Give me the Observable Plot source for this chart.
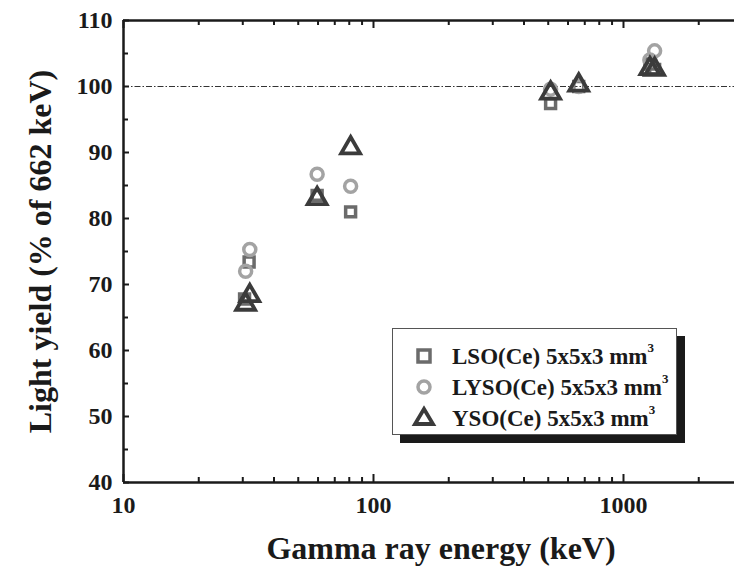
<!DOCTYPE html>
<html>
<head>
<meta charset="utf-8">
<script src="https://cdn.jsdelivr.net/npm/d3@7"></script>
<script src="https://cdn.jsdelivr.net/npm/@observablehq/plot@0.6"></script>
<style>
  html, body { margin: 0; padding: 0; background: #fff; }
  #wrap { position: relative; width: 734px; height: 566px; overflow: hidden; font-family: "Liberation Serif", "Times New Roman", serif; }
  #legend { position: absolute; left: 392px; top: 328px; width: 285px; height: 107px; background: #fff;
            border: 1px solid #555; box-shadow: 8px 8px 0 #1a1a1a; box-sizing: border-box; }
  .row { position: absolute; left: 0; height: 30px; display: flex; align-items: center; font-weight: bold; font-size: 23px; color: #1a1a1a; white-space: nowrap; }
  .row svg { width: 30px; height: 30px; margin-left: 16px; margin-right: 13px; flex: none; }
  .row sup { font-size: 13px; position: relative; top: -3px; }
</style>
</head>
<body>
<div id="wrap"></div>
<script>
// ---- data ----
const lsoEnergy  = [30.5, 31.8, 59.5, 81, 511, 662, 1275, 1332];
const lsoYield   = [67.8, 73.4, 83.5, 81.0, 97.4, 100.0, 103.4, 102.6];
const lysoEnergy = [30.8, 32, 59.5, 81, 511, 662, 1275, 1332];
const lysoYield  = [72.0, 75.3, 86.7, 84.9, 99.6, 100.0, 104.0, 105.4];
const ysoEnergy  = [30.8, 32, 59.5, 81, 511, 662, 1275, 1332];
const ysoYield   = [67.0, 68.3, 83.0, 90.7, 99.0, 100.2, 102.7, 102.6];
const seriesNames = ["LSO(Ce) 5x5x3 mm", "LYSO(Ce) 5x5x3 mm", "YSO(Ce) 5x5x3 mm"];
const xMajor = [10, 100, 1000];
const xMinor = [20, 30, 40, 50, 60, 70, 80, 90, 200, 300, 400, 500, 600, 700, 800, 900, 2000];
const yMajor = [40, 50, 60, 70, 80, 90, 100, 110];
const yMinor = [45, 55, 65, 75, 85, 95, 105];
const refLevel = [100];
const xLabel = "Gamma ray energy (keV)";
const yLabel = "Light yield (% of 662 keV)";

const toRows = (xs, ys) => xs.map((x, i) => ({x, y: ys[i]}));
const lso = toRows(lsoEnergy, lsoYield);
const lyso = toRows(lysoEnergy, lysoYield);
const yso = toRows(ysoEnergy, ysoYield);

const cSq = "#6b6b6b", cCi = "#a3a3a3", cTr = "#3b3b3b", ink = "#1a1a1a";
const font = "Liberation Serif, Times New Roman, serif";
const W = 734, H = 566, mL = 123, mT = 20, mB = 84, mR = 0;
const fw = W - mL - mR, fh = H - mT - mB;

const chart = Plot.plot({
  width: W, height: H,
  marginLeft: mL, marginTop: mT, marginBottom: mB, marginRight: mR,
  style: {fontFamily: font, fontSize: "24px", fontWeight: "bold", color: ink, background: "#fff"},
  x: {type: "log", domain: [10, 2780], label: null},
  y: {domain: [40, 110], label: null},
  marks: [
    Plot.ruleY(refLevel, {stroke: "#333", strokeWidth: 1, strokeDasharray: "6,2,1.5,2"}),
    // tick labels
    Plot.axisX(xMajor, {anchor: "bottom", tickSize: 0, tickPadding: 13, fontSize: 24, fontWeight: "bold", tickFormat: d => String(d), fill: ink}),
    Plot.axisY(yMajor, {anchor: "left", tickSize: 0, tickPadding: 11, fontSize: 24, fontWeight: "bold", tickFormat: d => String(d), fill: ink}),
    // inward ticks (bottom, top, left)
    Plot.tickX(xMajor, {x: d => d, insetTop: fh - 8, stroke: ink, strokeWidth: 2}),
    Plot.tickX(xMinor, {x: d => d, insetTop: fh - 5, stroke: ink, strokeWidth: 2}),
    Plot.tickX(xMajor, {x: d => d, insetBottom: fh - 8, stroke: ink, strokeWidth: 2}),
    Plot.tickX(xMinor, {x: d => d, insetBottom: fh - 5, stroke: ink, strokeWidth: 2}),
    Plot.tickY(yMajor, {y: d => d, insetRight: fw - 6, stroke: ink, strokeWidth: 2}),
    Plot.tickY(yMinor, {y: d => d, insetRight: fw - 5, stroke: ink, strokeWidth: 2}),
    // frame lines
    Plot.ruleY([40, 110], {stroke: ink, strokeWidth: 2.5}),
    Plot.ruleX([10], {stroke: ink, strokeWidth: 2.5}),
    // data
    Plot.dot(lso, {x: "x", y: "y", symbol: "square", r: 5.6, stroke: cSq, strokeWidth: 3.5, fill: "none"}),
    Plot.dot(lyso, {x: "x", y: "y", symbol: "circle", r: 6, stroke: cCi, strokeWidth: 3.5, fill: "none"}),
    Plot.dot(yso, {x: "x", y: "y", symbol: "triangle", r: 7, stroke: cTr, strokeWidth: 3.8, fill: "none", strokeLinejoin: "miter"}),
    // axis titles
    Plot.text([xLabel], {frameAnchor: "bottom", textAnchor: "middle", lineAnchor: "middle", dy: 66, dx: 12, fontSize: 32, fontWeight: "bold", fill: ink}),
    Plot.text([yLabel], {frameAnchor: "left", textAnchor: "middle", lineAnchor: "middle", rotate: -90, dx: -83, fontSize: 32, fontWeight: "bold", fill: ink})
  ]
});

const wrap = document.getElementById("wrap");
wrap.appendChild(chart);

// legend
const legend = document.createElement("div");
legend.id = "legend";
const symbols = [
  `<rect x="9" y="9" width="12" height="12" fill="none" stroke="${cSq}" stroke-width="3.5"/>`,
  `<circle cx="15" cy="15" r="6" fill="none" stroke="${cCi}" stroke-width="3.5"/>`,
  `<path d="M15,6 L24,21 L6,21 Z" fill="none" stroke="${cTr}" stroke-width="3.8" stroke-linejoin="miter"/>`
];
const rowTops = [12, 43, 74];
seriesNames.forEach((name, i) => {
  const row = document.createElement("div");
  row.className = "row";
  row.style.top = rowTops[i] + "px";
  row.innerHTML = `<svg viewBox="0 0 30 30">${symbols[i]}</svg><span>${name}<sup>3</sup></span>`;
  legend.appendChild(row);
});
wrap.appendChild(legend);
</script>
</body>
</html>
